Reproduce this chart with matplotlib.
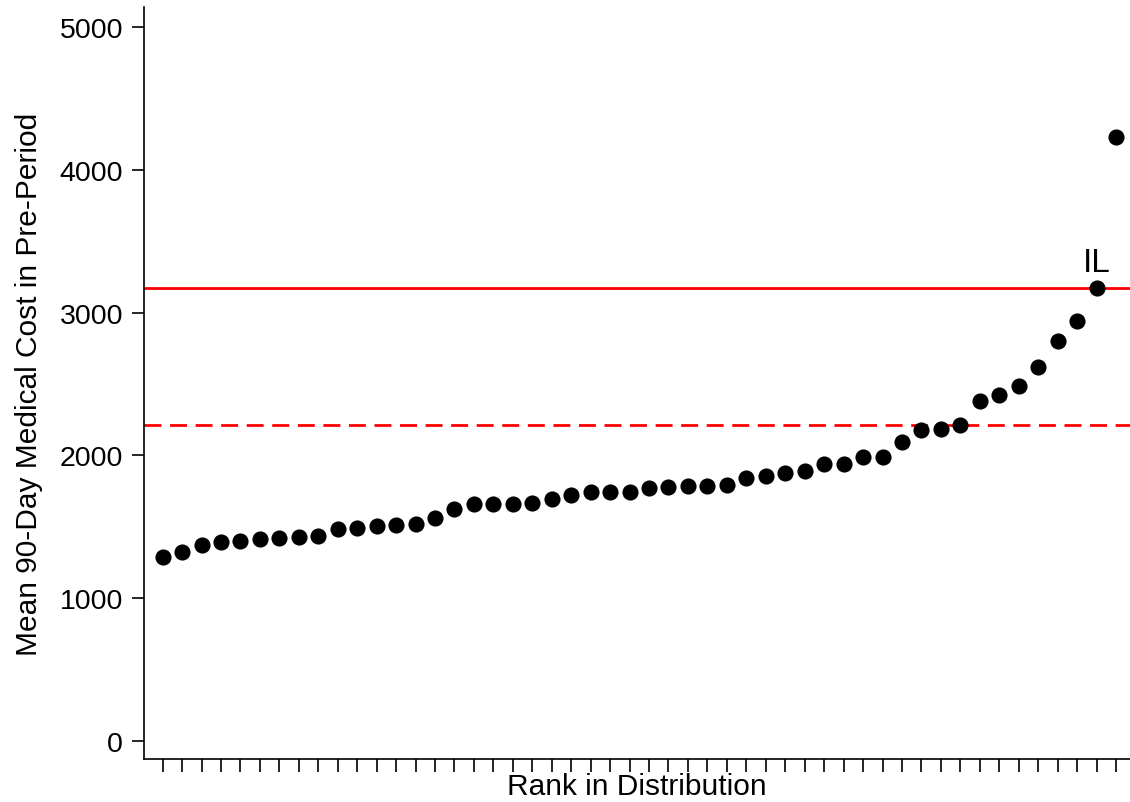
import matplotlib
matplotlib.use("Agg")
import matplotlib.pyplot as plt
import numpy as np

plt.rcParams['font.family'] = ['Liberation Sans', 'DejaVu Sans']

# state means, sorted ascending (rank 1..50)
mean_cost = [1291, 1326, 1376, 1395, 1398, 1415, 1424, 1429, 1433, 1487,
             1494, 1506, 1513, 1522, 1564, 1622, 1657, 1657, 1657, 1667,
             1697, 1725, 1741, 1741, 1741, 1769, 1778, 1784, 1784, 1793,
             1845, 1855, 1879, 1888, 1937, 1937, 1992, 1992, 2096, 2181,
             2187, 2211, 2382, 2425, 2483, 2620, 2800, 2940, 3172, 4227]
rank = np.arange(1, len(mean_cost) + 1)

il_rank = 49
il_cost = mean_cost[il_rank - 1]
ref_dashed = 2215

y_ticks = [0, 1000, 2000, 3000, 4000, 5000]

fig = plt.figure(figsize=(11.30, 8.03), dpi=100)
ax = fig.add_axes([0.1274, 0.0535, 0.8726, 0.9365])

ax.axhline(il_cost, color='#ff0000', lw=2, zorder=1)
ax.axhline(ref_dashed, color='#ff0000', lw=2, ls=(0, (6.1, 3.1)), zorder=1)
ax.scatter(rank, mean_cost, s=135, color='black', zorder=3, linewidths=0)
ax.text(il_rank, il_cost + 70, "IL", ha='center', va='bottom', fontsize=24)

ax.set_xlim(0.04, 50.72)
ax.set_ylim(-126, 5140)
ax.set_xticks(rank)
ax.set_xticklabels([])
ax.set_yticks(y_ticks)
ax.set_yticklabels([str(v) for v in y_ticks])

for side in ('top', 'right'):
    ax.spines[side].set_visible(False)
for side in ('left', 'bottom'):
    ax.spines[side].set_linewidth(1.2)

ax.tick_params(axis='y', direction='out', length=9, width=1.2,
               labelsize=20.5, pad=6)
ax.tick_params(axis='x', direction='out', length=9, width=1.2, pad=0)

ax.set_xlabel("Rank in Distribution", fontsize=21.5, labelpad=0)
ax.set_ylabel("Mean 90-Day Medical Cost in Pre-Period", fontsize=21.5,
              labelpad=12)

fig.savefig("out.png", dpi=100)
